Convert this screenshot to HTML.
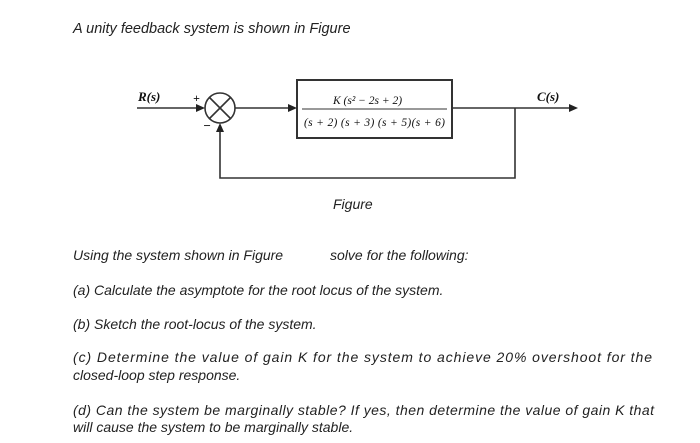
<!DOCTYPE html>
<html><head><style>
html,body{margin:0;padding:0;background:#fff;}
svg{display:block;}
text{font-family:"Liberation Sans",Arial,sans-serif;font-style:italic;fill:#222;}
.s{font-family:"Liberation Serif",serif;fill:#111;}
</style></head><body>
<svg width="700" height="443" viewBox="0 0 700 443" xmlns="http://www.w3.org/2000/svg">
<text x="73" y="33" font-size="14.5">A unity feedback system is shown in Figure</text>
<g stroke="#333" stroke-width="1.6" fill="none">
<line x1="137" y1="108" x2="198" y2="108"/>
<circle cx="220" cy="108" r="15"/>
<line x1="209" y1="97" x2="231" y2="119"/>
<line x1="231" y1="97" x2="209" y2="119"/>
<line x1="235" y1="108" x2="290" y2="108"/>
<rect x="297" y="80" width="155" height="58" stroke-width="2"/>
<line x1="452" y1="108" x2="570" y2="108"/>
<polyline points="515,108 515,178 220,178 220,132"/>
<line x1="302" y1="109" x2="447" y2="109" stroke-width="1"/>
</g>
<g fill="#222">
<polygon points="205,108 196,104 196,112"/>
<polygon points="297,108 288,104 288,112"/>
<polygon points="578,108 569,104 569,112"/>
<polygon points="220,123 216,132 224,132"/>
</g>
<text class="s" x="138" y="101" font-size="13" font-weight="bold">R(s)</text>
<text class="s" x="537" y="101" font-size="13" font-weight="bold">C(s)</text>
<text class="s" x="193" y="102" font-size="12" font-style="normal" font-weight="bold">+</text>
<text class="s" x="203" y="130" font-size="13" font-style="normal" font-weight="bold">−</text>
<text class="s" x="333" y="104" font-size="11.5">K (s² − 2s + 2)</text>
<text class="s" x="304" y="126" font-size="11.5" textLength="141">(s + 2) (s + 3) (s + 5)(s + 6)</text>
<text x="333" y="209" font-size="14">Figure</text>
<text x="73" y="260" font-size="14">Using the system shown in Figure</text>
<text x="330" y="260" font-size="14">solve for the following:</text>
<text x="73" y="295" font-size="14">(a)  Calculate the asymptote for the root locus of the system.</text>
<text x="73" y="329" font-size="14">(b)  Sketch the root-locus of the system.</text>
<text x="73" y="362" font-size="14" textLength="579" lengthAdjust="spacing">(c)  Determine the value of gain K for the system to achieve 20% overshoot for the</text>
<text x="73" y="380" font-size="14">closed-loop step response.</text>
<text x="73" y="415" font-size="14" textLength="581" lengthAdjust="spacing">(d)  Can the system be marginally stable? If yes, then determine the value of gain K that</text>
<text x="73" y="432" font-size="14">will cause the system to be marginally stable.</text>
</svg>
</body></html>
